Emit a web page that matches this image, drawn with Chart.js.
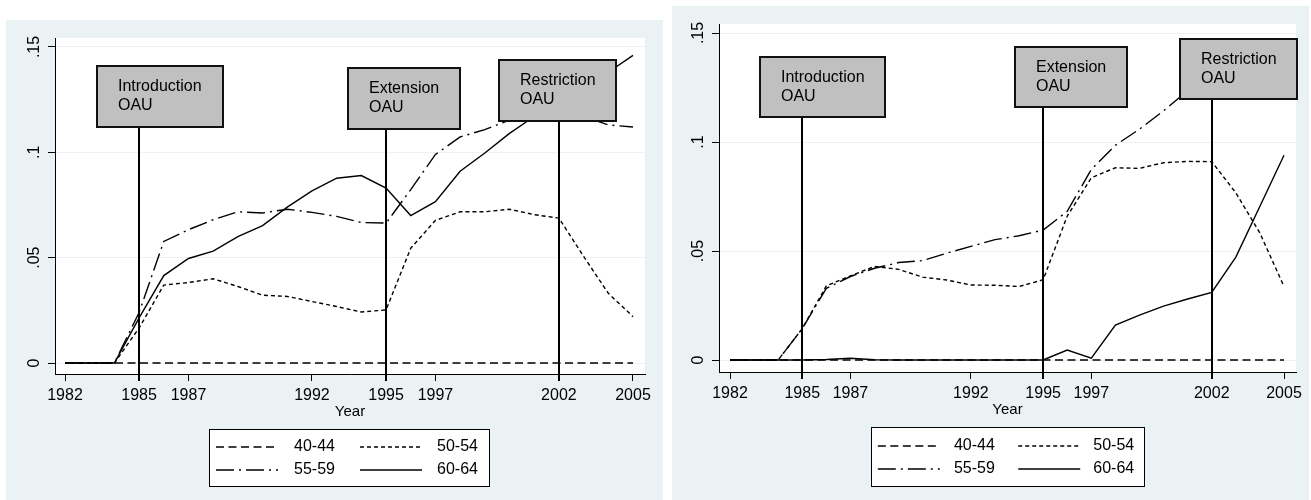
<!DOCTYPE html>
<html><head><meta charset="utf-8">
<script src="https://cdn.jsdelivr.net/npm/chart.js@4.4.1/dist/chart.umd.min.js"></script>
<style>
html,body{margin:0;padding:0;background:#fff;width:1311px;height:500px;overflow:hidden;}
.panel{position:absolute;background:#EAF2F3;}
#p1{left:6px;top:20px;width:657px;height:480px;}
#p2{left:672px;top:6px;width:637px;height:494px;}
canvas{display:block;}
</style></head><body>
<div class="panel" id="p1"><canvas id="c1" width="657" height="480"></canvas></div>
<div class="panel" id="p2"><canvas id="c2" width="637" height="494"></canvas></div>
<script>
// ---------- DATA ----------
const years = [1982,1983,1984,1985,1986,1987,1988,1989,1990,1991,1992,1993,1994,1995,1996,1997,1998,1999,2000,2001,2002,2003,2004,2005];
const xTickYears = [1982,1985,1987,1992,1995,1997,2002,2005];
const yTickValues = [0,0.05,0.1,0.15];
const yTickLabels = ['0','.05','.1','.15'];
const xTitle = 'Year';
const seriesLabels = ['40-44','50-54','55-59','60-64'];
const eventYears = [1985,1995,2002];
const eventLabels = [['Introduction','OAU'],['Extension','OAU'],['Restriction','OAU']];

// left panel
const left4044 = [0,0,0,0,0,0,0,0,0,0,0,0,0,0,0,0,0,0,0,0,0,0,0,0];
const left5054 = [0,0,0,0.0166,0.0370,0.0382,0.0400,0.0363,0.0322,0.0316,0.0292,0.0268,0.0242,0.0252,0.0545,0.0677,0.0718,0.0718,0.0730,0.0704,0.0688,0.0506,0.0331,0.0220];
const left5559 = [0,0,0,0.0240,0.0577,0.0633,0.0680,0.0718,0.0712,0.0730,0.0715,0.0696,0.0667,0.0664,0.0823,0.0990,0.1073,0.1108,0.1153,0.1180,0.1190,0.1170,0.1130,0.1120];
const left6064 = [0,0,0,0.0214,0.0415,0.0496,0.0531,0.0600,0.0652,0.0740,0.0817,0.0877,0.0890,0.0830,0.0700,0.0766,0.0910,0.0997,0.1090,0.1170,0.1240,0.1310,0.1380,0.1460];
// right panel
const right4044 = [0,0,0,0,0,0,0,0,0,0,0,0,0,0,0,0,0,0,0,0,0,0,0,0];
const right5054 = [0,0,0,0.0144,0.0340,0.0386,0.0429,0.0416,0.0380,0.0367,0.0344,0.0343,0.0337,0.0368,0.0660,0.0836,0.0882,0.0879,0.0905,0.0911,0.0910,0.0767,0.0582,0.0337];
const right5559 = [0,0,0,0.0144,0.0329,0.0383,0.0421,0.0447,0.0456,0.0490,0.0521,0.0552,0.0570,0.0596,0.0682,0.0874,0.0985,0.1059,0.1143,0.1236,0.1280,0.1320,0.1360,0.1400];
const right6064 = [0,0,0,0,0.0002,0.0008,0.0001,0,0,0,0,0,0,0,0.0046,0.0008,0.0160,0.0206,0.0247,0.0280,0.0310,0.0472,0.0705,0.0939];

// ---------- STYLE ----------
Chart.defaults.font.family = "'Liberation Sans', Arial, sans-serif";
Chart.defaults.color = '#000';
const BG = '#EAF2F3';
const FONT = "16px 'Liberation Sans', Arial, sans-serif";
const dashStyles = [[8,4.5],[4,3],[18,5,2,5],[]];
const LW = 1.4;

function buildDatasets(seriesArr){
  return seriesLabels.map((lab,i)=>({
    label: lab,
    data: years.map((yr,j)=>({x:yr, y:seriesArr[i][j]})),
    borderColor:'#000', borderWidth:LW, borderDash:dashStyles[i],
    pointRadius:0, pointHoverRadius:0, fill:false, tension:0
  }));
}

function makePanel(id, seriesArr, L){
  const decor = {
    id:'decor'+id,
    beforeDraw(chart){
      const {ctx, chartArea:a} = chart;
      ctx.save();
      ctx.fillStyle = BG; ctx.fillRect(0,0,chart.width,chart.height);
      ctx.fillStyle = '#fff'; ctx.fillRect(a.left,a.top,a.right-a.left,a.bottom-a.top);
      ctx.restore();
    },
    afterDraw(chart){
      const {ctx, chartArea:a, scales} = chart;
      const xs = scales.x, ys = scales.y;
      ctx.save();
      // rotated y tick labels
      ctx.font = FONT; ctx.fillStyle='#000'; ctx.textAlign='center'; ctx.textBaseline='middle';
      yTickValues.forEach((v,i)=>{
        const py = ys.getPixelForValue(v);
        ctx.save(); ctx.translate(a.left - 20, py); ctx.rotate(-Math.PI/2);
        ctx.fillText(yTickLabels[i], 0, 0); ctx.restore();
      });
      // event lines and boxes
      eventYears.forEach((yr,i)=>{
        const px = Math.round(xs.getPixelForValue(yr));
        const b = L.boxes[i];
        const bl = px + b.dx, bt = a.top + b.top;
        ctx.strokeStyle='#000'; ctx.lineWidth=2; ctx.setLineDash([]);
        ctx.beginPath(); ctx.moveTo(px, bt + L.boxH); ctx.lineTo(px, a.bottom + 7); ctx.stroke();
        ctx.fillStyle='#C0C0C0'; ctx.fillRect(bl, bt, b.w, L.boxH);
        ctx.strokeStyle='#111'; ctx.lineWidth=2; ctx.strokeRect(bl, bt, b.w, L.boxH);
        ctx.fillStyle='#000'; ctx.font=FONT; ctx.textAlign='left'; ctx.textBaseline='middle';
        eventLabels[i].forEach((t,k)=> ctx.fillText(t, bl + 21, bt + 21 + k*19));
      });
      // legend
      const g = L.legend, s = g.w/280;
      ctx.fillStyle='#fff'; ctx.fillRect(g.x,g.y,g.w,g.h);
      ctx.strokeStyle='#000'; ctx.lineWidth=1; ctx.setLineDash([]);
      ctx.strokeRect(g.x+0.5,g.y+0.5,g.w,g.h);
      chart.data.datasets.forEach((ds,i)=>{
        const col = i%2, row = Math.floor(i/2);
        const ly = g.y + g.rows[row];
        const lx = g.x + (col===0 ? 7 : 151)*s;
        ctx.strokeStyle='#000'; ctx.lineWidth=LW; ctx.setLineDash(ds.borderDash);
        ctx.beginPath(); ctx.moveTo(lx, ly); ctx.lineTo(lx+62, ly); ctx.stroke();
        ctx.setLineDash([]);
        ctx.fillStyle='#000'; ctx.font=FONT; ctx.textAlign='left'; ctx.textBaseline='middle';
        ctx.fillText(ds.label, g.x + (col===0 ? 85 : 228)*s, ly);
      });
      ctx.restore();
    }
  };
  return new Chart(document.getElementById(id), {
    type:'line',
    data:{datasets: buildDatasets(seriesArr)},
    options:{
      responsive:false, animation:false, events:[],
      layout:{padding:L.pad},
      plugins:{legend:{display:false}, tooltip:{enabled:false}},
      scales:{
        x:{type:'linear', min:L.xMin, max:L.xMax,
          afterBuildTicks(sc){ sc.ticks = xTickYears.map(v=>({value:v})); },
          afterFit(sc){ sc.height = L.xAxisHeight; },
          ticks:{autoSkip:false, maxRotation:0, minRotation:0, padding:5, font:{size:16}, color:'#000',
            callback:(v)=>String(v)},
          grid:{drawOnChartArea:false, tickLength:7, tickColor:'#000', tickWidth:1},
          border:{color:'#000', width:1},
          title:{display:true, text:xTitle, font:{size:15}, color:'#000', padding:{top:0,bottom:23}}
        },
        y:{type:'linear', min:L.yMin, max:L.yMax,
          afterBuildTicks(sc){ sc.ticks = yTickValues.map(v=>({value:v})); },
          afterFit(sc){ sc.width = L.yAxisWidth; },
          ticks:{display:false},
          grid:{color:BG, lineWidth:1, tickLength:7, tickColor:'#000', tickWidth:1},
          border:{color:'#000', width:1}
        }
      }
    },
    plugins:[decor]
  });
}

makePanel('c1', [left4044,left5054,left5559,left6064], {
  xMin:1981.595, xMax:2005.486, yMin:-0.00522, yMax:0.15427,
  pad:{left:0,right:18,top:18,bottom:56}, yAxisWidth:49, xAxisHeight:70,
  boxes:[{dx:-42,w:126,top:28},{dx:-38,w:112,top:30},{dx:-60,w:117,top:22}], boxH:61,
  legend:{x:203,y:409,w:280,h:57,rows:[18,41]}
});
makePanel('c2', [right4044,right5054,right5559,right6064], {
  xMin:1981.543, xMax:2005.498, yMin:-0.0055, yMax:0.15413,
  pad:{left:0,right:13,top:18,bottom:58}, yAxisWidth:47, xAxisHeight:70,
  boxes:[{dx:-42,w:125,top:33},{dx:-28,w:112,top:23},{dx:-32,w:117,top:15}], boxH:60,
  legend:{x:199,y:421,w:273,h:59,rows:[19,42]}
});
</script>
</body></html>
